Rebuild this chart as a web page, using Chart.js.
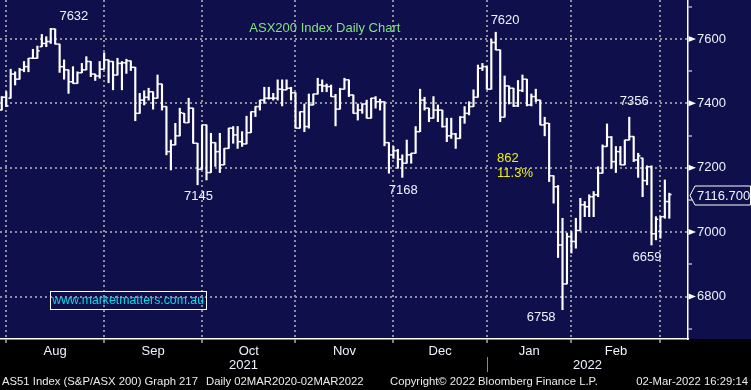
<!DOCTYPE html>
<html><head><meta charset="utf-8">
<script src="https://cdn.jsdelivr.net/npm/chart.js@4/dist/chart.umd.min.js"></script>
<style>html,body{margin:0;padding:0;background:#000;}canvas{display:block;}</style>
</head><body>
<canvas id="c" width="751" height="390"></canvas>
<script>
const FONT = "'Liberation Sans', Arial, sans-serif";
const NAVY = '#0f0f4b';
const GRID = '#8e8e9c';
const TXT = '#eef3ff';

const dates = [
'2021-07-29','2021-07-30',
'2021-08-02','2021-08-03','2021-08-04','2021-08-05','2021-08-06','2021-08-09','2021-08-10','2021-08-11','2021-08-12','2021-08-13','2021-08-16','2021-08-17','2021-08-18','2021-08-19','2021-08-20','2021-08-23','2021-08-24','2021-08-25','2021-08-26','2021-08-27','2021-08-30','2021-08-31',
'2021-09-01','2021-09-02','2021-09-03','2021-09-06','2021-09-07','2021-09-08','2021-09-09','2021-09-10','2021-09-13','2021-09-14','2021-09-15','2021-09-16','2021-09-17','2021-09-20','2021-09-21','2021-09-22','2021-09-23','2021-09-24','2021-09-27','2021-09-28','2021-09-29','2021-09-30',
'2021-10-01','2021-10-04','2021-10-05','2021-10-06','2021-10-07','2021-10-08','2021-10-11','2021-10-12','2021-10-13','2021-10-14','2021-10-15','2021-10-18','2021-10-19','2021-10-20','2021-10-21','2021-10-22','2021-10-25','2021-10-26','2021-10-27','2021-10-28','2021-10-29',
'2021-11-01','2021-11-02','2021-11-03','2021-11-04','2021-11-05','2021-11-08','2021-11-09','2021-11-10','2021-11-11','2021-11-12','2021-11-15','2021-11-16','2021-11-17','2021-11-18','2021-11-19','2021-11-22','2021-11-23','2021-11-24','2021-11-25','2021-11-26','2021-11-29','2021-11-30',
'2021-12-01','2021-12-02','2021-12-03','2021-12-06','2021-12-07','2021-12-08','2021-12-09','2021-12-10','2021-12-13','2021-12-14','2021-12-15','2021-12-16','2021-12-17','2021-12-20','2021-12-21','2021-12-22','2021-12-23','2021-12-24','2021-12-29','2021-12-30','2021-12-31',
'2022-01-04','2022-01-05','2022-01-06','2022-01-07','2022-01-10','2022-01-11','2022-01-12','2022-01-13','2022-01-14','2022-01-17','2022-01-18','2022-01-19','2022-01-20','2022-01-21','2022-01-24','2022-01-25','2022-01-27','2022-01-28','2022-01-31',
'2022-02-01','2022-02-02','2022-02-03','2022-02-04','2022-02-07','2022-02-08','2022-02-09','2022-02-10','2022-02-11','2022-02-14','2022-02-15','2022-02-16','2022-02-17','2022-02-18','2022-02-21','2022-02-22','2022-02-23','2022-02-24','2022-02-25','2022-02-28',
'2022-03-01','2022-03-02'];

const open = [
7379,7419,
7416,7491,7475,7504,7514,7540,7540,7576,7586,7592,7631,7584,7514,7504,7467,7462,7495,7504,7530,7491,7485,7506,
7535,7530,7488,7524,7526,7532,7512,7369,7410,7419,7436,7416,7460,7390,7250,7271,7299,7369,7340,7385,7276,7195,
7333,7185,7278,7250,7209,7260,7323,7302,7281,7274,7309,7374,7390,7410,7416,7416,7416,7444,7442,7447,7433,
7323,7374,7328,7395,7429,7457,7454,7452,7421,7382,7444,7473,7426,7369,7379,7398,7354,7416,7405,7405,7278,7240,
7253,7226,7214,7240,7245,7312,7410,7385,7354,7379,7379,7328,7299,7305,7291,7357,7369,7390,7419,7509,7514,
7444,7589,7566,7357,7454,7447,7392,7440,7475,7395,7421,7410,7333,7338,7175,7141,6960,6839,6986,
6971,7005,7085,7079,7110,7116,7183,7266,7295,7219,7250,7209,7286,7297,7224,7230,7160,7203,6995,7002,
7048,7095];

const high = [
7421,7436,
7506,7498,7509,7530,7540,7568,7578,7614,7607,7633,7631,7584,7535,7504,7514,7498,7524,7545,7530,7491,7530,7557,
7535,7530,7540,7530,7537,7532,7512,7431,7439,7447,7436,7488,7460,7390,7286,7338,7385,7369,7416,7385,7276,7333,
7333,7307,7278,7307,7260,7323,7328,7328,7312,7360,7374,7390,7410,7450,7450,7431,7473,7473,7473,7450,7433,
7374,7398,7429,7429,7478,7473,7460,7457,7428,7447,7478,7473,7426,7398,7398,7410,7416,7421,7413,7405,7278,7266,
7257,7240,7286,7245,7328,7444,7419,7385,7421,7395,7379,7354,7354,7307,7359,7390,7405,7442,7519,7524,7514,
7599,7621,7566,7485,7454,7447,7471,7488,7475,7429,7444,7410,7357,7338,7175,7145,7043,6997,7002,
7043,7105,7095,7116,7126,7203,7271,7336,7297,7266,7266,7286,7357,7297,7245,7230,7206,7206,7048,7048,
7162,7121];

const low = [
7379,7390,
7416,7457,7475,7498,7498,7540,7540,7576,7576,7586,7584,7496,7475,7431,7462,7462,7495,7504,7483,7471,7478,7506,
7464,7442,7488,7442,7493,7502,7346,7369,7395,7410,7382,7416,7379,7240,7193,7271,7299,7340,7340,7276,7147,7195,
7162,7185,7204,7185,7209,7260,7276,7260,7266,7274,7309,7359,7379,7400,7413,7410,7410,7392,7442,7410,7323,
7323,7312,7323,7395,7429,7436,7436,7421,7330,7382,7444,7421,7369,7348,7369,7354,7354,7385,7379,7268,7183,7229,
7198,7170,7214,7214,7245,7312,7379,7343,7354,7343,7326,7281,7291,7260,7291,7338,7364,7390,7419,7502,7444,
7444,7566,7343,7357,7398,7390,7390,7436,7392,7392,7405,7333,7299,7157,7090,6921,6759,6839,6935,
6950,7005,7048,7048,7048,7110,7183,7266,7198,7185,7209,7209,7286,7219,7170,7110,7147,6960,6976,6981,
7043,7043];

const close = [
7419,7392,
7491,7475,7504,7514,7540,7540,7563,7586,7592,7631,7584,7514,7504,7467,7462,7495,7504,7530,7491,7485,7506,7535,
7530,7488,7524,7526,7532,7512,7369,7410,7419,7436,7416,7460,7390,7250,7271,7299,7371,7340,7385,7276,7195,7333,
7185,7278,7250,7209,7260,7323,7302,7281,7274,7309,7374,7390,7410,7416,7416,7416,7444,7442,7447,7433,7323,
7374,7328,7395,7429,7457,7454,7452,7421,7382,7444,7473,7426,7369,7379,7398,7354,7416,7405,7405,7278,7240,7253,
7226,7214,7240,7245,7312,7410,7385,7354,7379,7379,7328,7299,7305,7291,7357,7369,7390,7419,7509,7514,7444,
7589,7566,7357,7454,7447,7392,7440,7475,7395,7421,7410,7333,7338,7175,7141,6960,6839,6986,6971,
7005,7085,7079,7110,7116,7183,7266,7295,7219,7250,7209,7286,7297,7224,7237,7160,7203,6995,7040,7048,
7095,7116.7];

const monthLabels = ['Aug','Sep','Oct','Nov','Dec','Jan','Feb'];
const yearLabels = ['2021','2022'];
const yTickValues = [6700,6800,6900,7000,7100,7200,7300,7400,7500,7600,7700];
const yLabelValues = [6800,7000,7200,7400,7600];

const notes = [
  {text:'7632', at:[16.2,7671]},
  {text:'7145', at:[44.2,7111]},
  {text:'7168', at:[90.2,7128]},
  {text:'7620', at:[113.1,7659]},
  {text:'7356', at:[142.1,7407]},
  {text:'6758', at:[121.2,6734]},
  {text:'6659', at:[145.0,6920]},
  {text:'862', at:[111.3,7230], color:'#f0f00c', align:'left'},
  {text:'11.3%', at:[111.3,7181], color:'#f0f00c', align:'left'},
  {text:'ASX200 Index Daily Chart', at:[72.6,7634], color:'#84e184'}
];
const site = {text:'www.marketmatters.com.au', at:[28.4,6789]};
const footer = [
  {text:'AS51 Index (S&P/ASX 200) Graph 217', x:2, align:'left'},
  {text:'Daily 02MAR2020-02MAR2022', x:206, align:'left'},
  {text:'Copyright\u00A9 2022 Bloomberg Finance L.P.', x:390, align:'left'},
  {text:'02-Mar-2022 16:29:14', x:748, align:'right'}
];

const XMIN = -0.4, XMAX = 154.2, YMIN = 6668, YMAX = 7721;
const TICK = 0.25;

const monthEnds = [];
dates.forEach((d,i)=>{ if (i<dates.length-1 && d.slice(0,7)!==dates[i+1].slice(0,7)) monthEnds.push(i); });
const monthMids = monthLabels.map((m,k)=>(monthEnds[k]+monthEnds[k+1])/2);
const yearEnd = dates.findIndex((d,i)=> i<dates.length-1 && d.slice(0,4)!==dates[i+1].slice(0,4));

const decor = {
  id:'decor',
  beforeDraw(chart){
    const c = chart.ctx, a = chart.chartArea;
    c.save();
    c.fillStyle = '#000'; c.fillRect(0,0,chart.width,chart.height);
    c.fillStyle = NAVY; c.fillRect(0,0,chart.width,a.bottom);
    c.restore();
  },
  afterDraw(chart){
    const c = chart.ctx, x = chart.scales.x, y = chart.scales.y, a = chart.chartArea;
    c.save();
    c.fillStyle = '#fff';
    yLabelValues.forEach(v=>{
      const py = y.getPixelForValue(v);
      c.beginPath(); c.moveTo(a.right+0.5, py-3); c.lineTo(a.right+8, py); c.lineTo(a.right+0.5, py+3); c.closePath(); c.fill();
    });
    c.font = '13px ' + FONT; c.textBaseline = 'middle';
    notes.forEach(n=>{
      c.fillStyle = n.color || TXT; c.textAlign = n.align || 'center';
      c.fillText(n.text, x.getPixelForValue(n.at[0]), y.getPixelForValue(n.at[1]));
    });
    c.font = '12.3px ' + FONT;
    const sx = x.getPixelForValue(site.at[0]), sy = y.getPixelForValue(site.at[1]);
    const sw = c.measureText(site.text).width;
    c.strokeStyle = '#fff'; c.lineWidth = 1;
    c.strokeRect(Math.round(sx - sw/2 - 2)+0.5, Math.round(sy - 9)+0.5, Math.round(sw + 4), 18);
    c.fillStyle = '#00dcea'; c.textAlign = 'center';
    c.fillText(site.text, sx, sy + 0.5);
    const last = close[close.length-1];
    const ly = Math.round(y.getPixelForValue(last)) + 0.5;
    c.beginPath();
    c.moveTo(a.right+2, ly); c.lineTo(a.right+7, ly-9.5); c.lineTo(750.5, ly-9.5); c.lineTo(750.5, ly+9.5); c.lineTo(a.right+7, ly+9.5); c.closePath();
    c.fillStyle = NAVY; c.fill(); c.strokeStyle = '#fff'; c.lineWidth = 1; c.stroke();
    c.font = '13px ' + FONT; c.fillStyle = TXT; c.textAlign = 'left';
    c.fillText(last.toFixed(3), a.right + 9, ly + 0.5);
    c.textAlign = 'center';
    c.fillText(yearLabels[0], x.getPixelForValue((XMIN + yearEnd)/2), 365);
    c.fillText(yearLabels[1], x.getPixelForValue((yearEnd + XMAX)/2), 365);
    const sepX = Math.round(x.getPixelForValue(yearEnd)) + 0.5;
    c.strokeStyle = '#8a8a8a'; c.lineWidth = 1;
    c.beginPath(); c.moveTo(sepX, 357); c.lineTo(sepX, 372); c.stroke();
    c.font = '11.3px ' + FONT; c.fillStyle = '#ececec';
    footer.forEach(f=>{ c.textAlign = f.align; c.fillText(f.text, f.x, 382); });
    c.restore();
  }
};

new Chart(document.getElementById('c'), {
  type: 'scatter',
  data: {
    datasets: [
      {type:'bar', data: dates.map((d,i)=>({x:i, y:[low[i], high[i]]})), backgroundColor:'#ffffff', borderWidth:0, barThickness:1.5},
      {type:'scatter', data: dates.map((d,i)=>({x:i-TICK, y:open[i]})), pointStyle:'line', pointRadius:1.15, pointBorderWidth:1.5, pointBorderColor:'#ffffff', pointBackgroundColor:'#ffffff'},
      {type:'scatter', data: dates.map((d,i)=>({x:i+TICK, y:close[i]})), pointStyle:'line', pointRadius:1.15, pointBorderWidth:1.5, pointBorderColor:'#ffffff', pointBackgroundColor:'#ffffff'}
    ]
  },
  options: {
    responsive:false, animation:false, events:[], devicePixelRatio:1,
    layout:{padding:0, autoPadding:false},
    plugins:{legend:{display:false}, tooltip:{enabled:false}},
    scales:{
      x:{
        type:'linear', position:'bottom', min:XMIN, max:XMAX, offset:false,
        afterBuildTicks: s => { s.ticks = monthEnds.concat(monthMids).sort((p,q)=>p-q).map(v=>({value:v})); },
        afterFit: s => { s.height = 51; s.paddingLeft = 0; s.paddingRight = 0; },
        ticks:{autoSkip:false, maxRotation:0, minRotation:0, color:TXT, font:{family:FONT, size:13}, padding:1,
          callback: v => { const k = monthMids.indexOf(v); return k >= 0 ? monthLabels[k] : ''; }},
        grid:{offset:false, lineWidth:2,
          color: c => monthEnds.includes(c.tick && c.tick.value) ? GRID : 'rgba(0,0,0,0)',
          tickColor: c => monthEnds.includes(c.tick && c.tick.value) ? '#ffffff' : 'rgba(0,0,0,0)',
          tickLength:4, tickWidth:1},
        border:{display:true, color:'#ffffff', width:1.5, dash:[2,3]}
      },
      y:{
        type:'linear', position:'right', min:YMIN, max:YMAX, beginAtZero:false,
        afterBuildTicks: s => { s.ticks = yTickValues.map(v=>({value:v})); },
        afterFit: s => { s.width = 63; s.paddingTop = 0; s.paddingBottom = 0; },
        ticks:{autoSkip:false, color:TXT, font:{family:FONT, size:13}, padding:5,
          callback: v => yLabelValues.includes(v) ? String(v) : ''},
        grid:{lineWidth:2,
          color: c => yLabelValues.includes(c.tick && c.tick.value) ? GRID : 'rgba(0,0,0,0)',
          tickColor: c => yLabelValues.includes(c.tick && c.tick.value) ? 'rgba(0,0,0,0)' : '#ffffff',
          tickLength:4, tickWidth:1},
        border:{display:true, color:'#ffffff', width:1.5, dash:[2,3]}
      }
    }
  },
  plugins:[decor]
});
</script>
</body></html>
